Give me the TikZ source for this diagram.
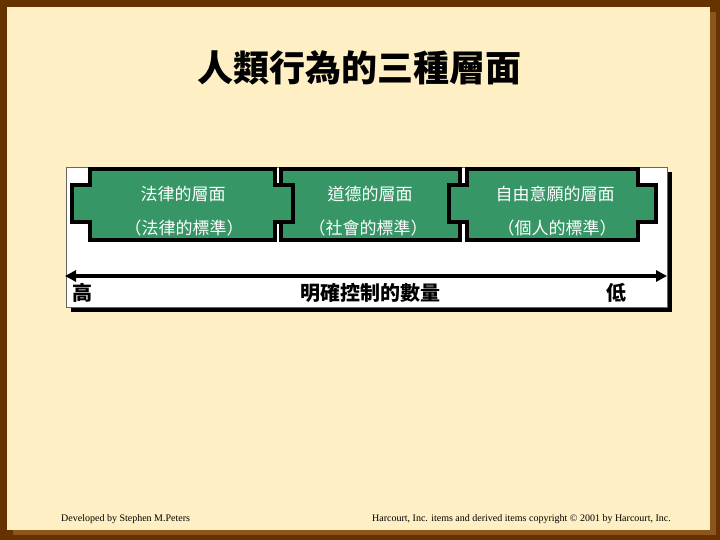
\documentclass[tikz,border=0pt]{standalone}
\usepackage{fontspec}
\setmainfont{Liberation Serif}
\newfontfamily\cjk{Noto Sans CJK TC}
\usetikzlibrary{arrows.meta}
\definecolor{brdark}{RGB}{102,51,0}
\definecolor{brlight}{RGB}{140,86,26}
\definecolor{cream}{RGB}{255,239,196}
\definecolor{boxgreen}{RGB}{54,150,102}
\tikzset{
  levelbox/.style={fill=boxgreen, draw=black, line width=4pt, line join=miter},
  boxtext/.style={text=white, font=\cjk\fontsize{17}{20}\selectfont, inner sep=0pt},
  axislabel/.style={text=black, font=\cjk\bfseries\fontsize{20}{24}\selectfont, inner sep=0pt},
  footer/.style={font=\fontsize{10}{12}\selectfont, inner sep=0pt}
}
\newcommand{\levelshape}[3]{% x1, x2, tab
  \draw[levelbox] (#1,169) -- (#2,169) -- (#2,185) -- (#2+#3,185) -- (#2+#3,222) -- (#2,222)
    -- (#2,240) -- (#1,240) -- (#1,222) -- (#1-#3,222) -- (#1-#3,185) -- (#1,185) -- cycle;}
\begin{document}
\begin{tikzpicture}[x=1pt,y=-1pt]
\useasboundingbox (0,0) rectangle (720,540);
% frame
\fill[brdark] (0,0) rectangle (720,540);
\fill[brlight] (13,12) rectangle (716,535);
\fill[cream] (7,7) rectangle (710,530);
% title
\node[font=\cjk\bfseries\fontsize{36}{40}\selectfont, inner sep=0pt] (title) at (359,68) {人類行為的三種層面};
% panel
\fill[black] (71,172) rectangle (672,312);
\draw[fill=white, draw=black!60, line width=0.8pt] (66,167) rectangle (667,307);
% boxes (middle first, then the two outer ones on top)
\levelshape{281}{460}{18}
\levelshape{90}{275}{18}
\levelshape{467}{638}{18}
\node[boxtext] (b1a) at (183,194) {法律的層面};
\node[boxtext] (b1b) at (184,228) {（法律的標準）};
\node[boxtext] (b2a) at (370,194) {道德的層面};
\node[boxtext] (b2b) at (368,228) {（社會的標準）};
\node[boxtext] (b3a) at (555,194) {自由意願的層面};
\node[boxtext] (b3b) at (557,228) {（個人的標準）};
% axis
\coordinate (axL) at (65,276);
\coordinate (axR) at (667,276);
\draw[line width=3.4pt, {Triangle[length=11pt,width=11pt]}-{Triangle[length=11pt,width=11pt]}] (axL) -- (axR);
\node[axislabel] (high) at (82,293) {高};
\node[axislabel] (amount) at (370,293) {明確控制的數量};
\node[axislabel] (low) at (616,293) {低};
% footer
\node[footer, anchor=west] (dev) at (61,519) {Developed by Stephen M.Peters};
\node[footer, anchor=east] (copy) at (671,519) {Harcourt, Inc. items and derived items copyright © 2001 by Harcourt, Inc.};
\end{tikzpicture}
\end{document}
